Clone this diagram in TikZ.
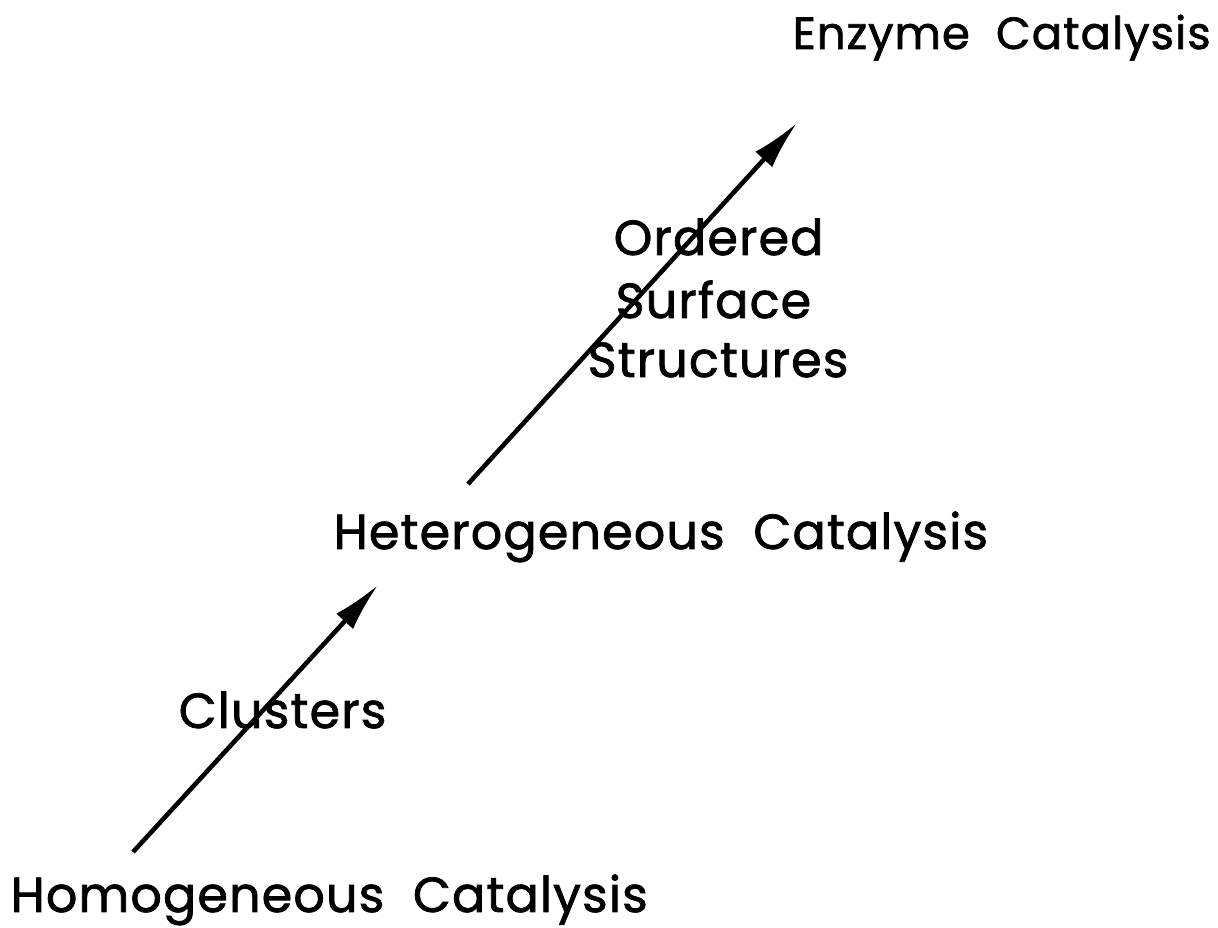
\documentclass[tikz,border=0pt]{standalone}
\usepackage{fontspec}
\setmainfont[LetterSpace=2.3, FakeBold=1.5]{Poppins}
\usetikzlibrary{arrows.meta,positioning}
\tikzset{>={Latex[length=14pt,width=6.5pt]}}
\tikzset{catlabel/.style={anchor=base west, inner sep=0pt,
    font=\fontsize{14}{17}\selectfont}}
\tikzset{catarrow/.style={->, line width=1.3pt}}

\begin{document}
\begin{tikzpicture}[x=0.01cm, y=-0.01cm]
  \useasboundingbox (0, 0) rectangle (1218, 928); %
  % levels of catalysis
  \node[catlabel, font=\fontsize{12.8}{15}\selectfont] (enzyme) at (792, 49)
  {Enzyme\ \ Catalysis}; %
  \node[catlabel] (hetero) at (333, 549) {Heterogeneous\ \ Catalysis}; %
  \node[catlabel] (homo) at (10, 912) {Homogeneous\ \ Catalysis}; %
  % bridges between them
  \node[catlabel] (clusters) at (178, 728) {Clusters}; %
  \node[catlabel] (ordered) at (613, 255) {Ordered}; %
  \node[catlabel] (surface) at (615, 318) {Surface}; %
  \node[catlabel] (structures) at (587, 377) {Structures}; %
  \coordinate (homoTop) at (133, 852); %
  \coordinate (heteroBottom) at (378, 585); %
  \coordinate (heteroTop) at (468, 484); %
  \coordinate (enzymeBottom) at (797, 123); %
  \draw[catarrow] (homoTop) -- (heteroBottom); %
  \draw[catarrow] (heteroTop) -- (enzymeBottom); %
\end{tikzpicture}
\end{document}
